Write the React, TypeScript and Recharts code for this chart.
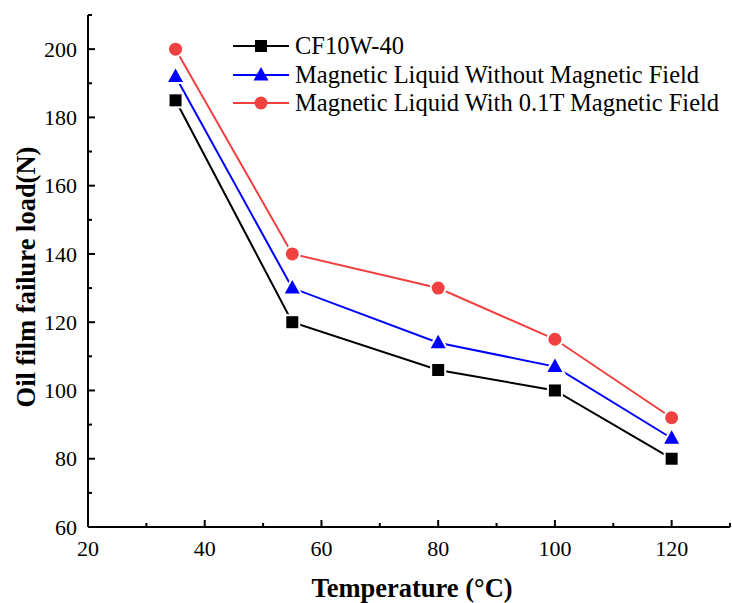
import { LineChart, Line, XAxis, YAxis } from "recharts";

// ---------------------------------------------------------------------------
// Data
// ---------------------------------------------------------------------------

const TEMPERATURES = [35, 55, 80, 100, 120];
const CF10W40 = [185, 120, 106, 100, 80];
const WITHOUT_FIELD = [192, 130, 114, 107, 86];
const WITH_FIELD = [200, 140, 130, 115, 92];

const X_TICKS = [20, 30, 40, 50, 60, 70, 80, 90, 100, 110, 120, 130];
const Y_TICKS = [60, 70, 80, 90, 100, 110, 120, 130, 140, 150, 160, 170, 180, 190, 200, 210];

const SERIES = [
	{ key: "cf", label: "CF10W-40", color: "#000000", shape: "square" },
	{ key: "without", label: "Magnetic Liquid Without Magnetic Field", color: "#0000ff", shape: "triangle" },
	{ key: "with", label: "Magnetic Liquid With 0.1T Magnetic Field", color: "#f04040", shape: "circle" },
];

const rows = TEMPERATURES.map((t, i) => ({
	t,
	cf: CF10W40[i],
	without: WITHOUT_FIELD[i],
	with: WITH_FIELD[i],
}));

const FONT = "'Liberation Serif', 'Times New Roman', serif";

// ---------------------------------------------------------------------------
// Markers
// ---------------------------------------------------------------------------

function Marker({ cx, cy, shape, color, halo }: any) {
	const haloProps = halo ? { stroke: "#fff", strokeWidth: 4, paintOrder: "stroke" as const } : {};
	if (shape === "square") {
		return <rect x={cx - 6} y={cy - 6} width={12} height={12} fill={color} {...haloProps} />;
	}
	if (shape === "triangle") {
		return (
			<polygon
				points={`${cx},${cy - 8} ${cx - 7.5},${cy + 5.5} ${cx + 7.5},${cy + 5.5}`}
				fill={color}
				{...haloProps}
			/>
		);
	}
	return <circle cx={cx} cy={cy} r={6.5} fill={color} {...haloProps} />;
}

const makeDot = (shape: string, color: string) => (props: any) => {
	const { cx, cy, index } = props;
	return <Marker key={`${shape}-${index}`} cx={cx} cy={cy} shape={shape} color={color} halo />;
};

// ---------------------------------------------------------------------------
// Ticks (inward, major + minor)
// ---------------------------------------------------------------------------

function XTick({ x, y, payload }: any) {
	const major = payload.value % 20 === 0 && payload.value <= 120;
	return (
		<g>
			<line x1={x} x2={x} y1={y} y2={y - (major ? 7 : 4)} stroke="#000" strokeWidth={2} />
			{major && (
				<text x={x} y={y + 29} textAnchor="middle" style={{ fontFamily: FONT }} fontSize={22} fill="#000">
					{payload.value}
				</text>
			)}
		</g>
	);
}

function YTick({ x, y, payload }: any) {
	const major = payload.value % 20 === 0 && payload.value <= 200;
	return (
		<g>
			<line x1={x} x2={x + (major ? 7 : 4)} y1={y} y2={y} stroke="#000" strokeWidth={2} />
			{major && (
				<text x={x - 11} y={y} dy="0.35em" textAnchor="end" style={{ fontFamily: FONT }} fontSize={22} fill="#000">
					{payload.value}
				</text>
			)}
		</g>
	);
}

// ---------------------------------------------------------------------------
// Legend
// ---------------------------------------------------------------------------

function LegendBox() {
	return (
		<div
			style={{
				position: "absolute",
				left: 233,
				top: 32,
				fontFamily: FONT,
				fontSize: 24.5,
				lineHeight: "28.5px",
			}}
		>
			{SERIES.map((s) => (
				<div key={s.key} style={{ display: "flex", alignItems: "center", whiteSpace: "nowrap", height: 28.5 }}>
					<svg width={56} height={28} style={{ marginRight: 6 }}>
						<line x1={0} x2={56} y1={14} y2={14} stroke={s.color} strokeWidth={2} />
						<Marker cx={28} cy={14} shape={s.shape} color={s.color} />
					</svg>
					<span>{s.label}</span>
				</div>
			))}
		</div>
	);
}

// ---------------------------------------------------------------------------
// Chart
// ---------------------------------------------------------------------------

export default function App() {
	return (
		<div style={{ position: "absolute", left: 0, top: 0, width: 732, height: 603, background: "#fff" }}>
			<LineChart width={732} height={603} data={rows} margin={{ top: 15, right: 2, bottom: 0, left: 0 }}>
				<XAxis
					dataKey="t"
					type="number"
					domain={[20, 130]}
					ticks={X_TICKS}
					height={76}
					tickSize={0}
					tickMargin={0}
					tickLine={false}
					tick={<XTick />}
					interval={0}
					axisLine={{ stroke: "#000", strokeWidth: 2 }}
					label={{
						content: () => (
							<text x={412} y={597} textAnchor="middle" style={{ fontFamily: FONT }} fontSize={26.5} fontWeight="bold" fill="#000">
								Temperature (°C)
							</text>
						),
					}}
				/>
				<XAxis
					xAxisId="top"
					dataKey="t"
					type="number"
					domain={[20, 130]}
					orientation="top"
					height={0}
					tick={false}
					tickLine={false}
					axisLine={{ stroke: "#000", strokeWidth: 2 }}
				/>
				<YAxis
					type="number"
					domain={[60, 210]}
					ticks={Y_TICKS}
					width={88}
					tickSize={0}
					tickMargin={0}
					tickLine={false}
					tick={<YTick />}
					interval={0}
					axisLine={{ stroke: "#000", strokeWidth: 2 }}
					label={{
						content: () => (
							<text
								x={26}
								y={277}
								transform="rotate(-90 26 277)"
								textAnchor="middle"
								dominantBaseline="central"
								style={{ fontFamily: FONT }}
								fontSize={26.5}
								fontWeight="bold"
								fill="#000"
							>
								Oil film failure load(N)
							</text>
						),
					}}
				/>
				<YAxis
					yAxisId="right"
					orientation="right"
					domain={[60, 210]}
					width={0}
					tick={false}
					tickLine={false}
					axisLine={{ stroke: "#000", strokeWidth: 2 }}
				/>
				{SERIES.map((s) => (
					<Line
						key={s.key}
						dataKey={s.key}
						name={s.label}
						type="linear"
						stroke={s.color}
						strokeWidth={2}
						dot={makeDot(s.shape, s.color)}
						activeDot={false}
						isAnimationActive={false}
					/>
				))}
			</LineChart>
			<LegendBox />
		</div>
	);
}
